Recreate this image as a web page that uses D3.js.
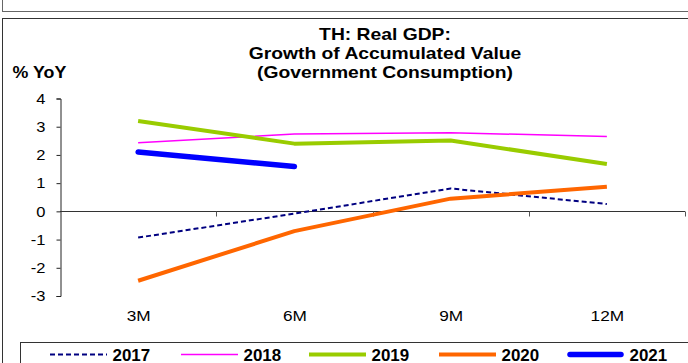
<!DOCTYPE html>
<html>
<head>
<meta charset="utf-8">
<script src="https://cdn.jsdelivr.net/npm/d3@7"></script>
<style>
  html, body { margin: 0; padding: 0; background: #fff; }
  svg { display: block; font-family: "Liberation Sans", Arial, sans-serif; }
</style>
</head>
<body>
<svg id="chart" width="688" height="363"></svg>
<script>
// Accumulated government consumption growth, % YoY
const categories = ["3M", "6M", "9M", "12M"];
const years = ["2017", "2018", "2019", "2020", "2021"];
const values2017 = [-0.93, -0.08, 0.81, 0.26];
const values2018 = [2.43, 2.74, 2.79, 2.65];
const values2019 = [3.2, 2.4, 2.51, 1.68];
const values2020 = [-2.46, -0.7, 0.45, 0.87];
const values2021 = [2.1, 1.59];
const yTicks = [4, 3, 2, 1, 0, -1, -2, -3];
const titleLines = ["TH: Real GDP:", "Growth of Accumulated Value", "(Government Consumption)"];

const seriesValues = [values2017, values2018, values2019, values2020, values2021];
const styles = [
  { color: "#000080", width: 2,   dash: "5,3" },
  { color: "#ff00ff", width: 1.5, dash: null },
  { color: "#99cc00", width: 4,   dash: null },
  { color: "#ff6600", width: 4,   dash: null },
  { color: "#0000ff", width: 5.5, dash: null }
];

const svg = d3.select("#chart");

// text drawn with a slight horizontal widening
function label(parent, x, y, str, opts) {
  const g = parent.append("g")
    .attr("transform", `translate(${x},${y}) scale(${opts.sx || 1},1)`);
  return g.append("text")
    .attr("text-anchor", opts.anchor || "start")
    .attr("font-size", opts.size)
    .attr("font-weight", opts.bold ? "bold" : "normal")
    .attr("fill", "#000")
    .text(str);
}

// frames
svg.append("rect").attr("x", 2.5).attr("y", -10).attr("width", 700).attr("height", 21.5)
  .attr("fill", "none").attr("stroke", "#666").attr("stroke-width", 1);
svg.append("rect").attr("x", 2.5).attr("y", 18.5).attr("width", 700).attr("height", 360)
  .attr("fill", "none").attr("stroke", "#333").attr("stroke-width", 1);

// title
titleLines.forEach((t, i) => {
  label(svg, 385, 40 + i * 19, t, { size: 16.5, bold: true, sx: 1.17, anchor: "middle" });
});
label(svg, 12.5, 77.5, "% YoY", { size: 16.5, bold: true, sx: 1.08 });

// scales
const x = d3.scaleBand().domain(categories).range([60, 685]);
const y = d3.scaleLinear().domain([-3, 4]).range([296, 98.5]);

// y axis
const yAxis = svg.append("g").attr("transform", "translate(60.5,0)")
  .call(d3.axisLeft(y).tickValues(yTicks).tickSize(4).tickFormat(() => ""));
yAxis.select(".domain").attr("stroke", "#222");
yAxis.selectAll(".tick line").attr("stroke", "#222");
yTicks.forEach(v => {
  label(svg, 45.5, y(v) + 5.3, String(v), { size: 15, sx: 1.1, anchor: "end" });
});

// zero line with boundary ticks
const y0 = Math.round(y(0)) + 0.5;
svg.append("line").attr("x1", 60).attr("x2", 685).attr("y1", y0).attr("y2", y0)
  .attr("stroke", "#333").attr("stroke-width", 1.2);
const bounds = categories.map(c => x(c)).concat([x.range()[1]]);
svg.selectAll(".btick").data(bounds.slice(1)).enter().append("line")
  .attr("x1", d => Math.round(d) + 0.5).attr("x2", d => Math.round(d) + 0.5)
  .attr("y1", y0).attr("y2", y0 + 5).attr("stroke", "#555");

// category labels
categories.forEach(c => {
  label(svg, x(c) + x.bandwidth() / 2 + 0.5, 321, c, { size: 15, sx: 1.15, anchor: "middle" });
});

// series
const line = d3.line()
  .x((d, i) => x(categories[i]) + x.bandwidth() / 2)
  .y(d => y(d));
seriesValues.forEach((vals, k) => {
  const s = styles[k];
  svg.append("path").datum(vals).attr("d", line)
    .attr("fill", "none").attr("stroke", s.color).attr("stroke-width", s.width)
    .attr("stroke-dasharray", s.dash).attr("stroke-linejoin", "round")
    .attr("stroke-linecap", k === 4 ? "round" : "butt");
});

// legend
svg.append("rect").attr("x", 20.5).attr("y", 342.5).attr("width", 700).attr("height", 40)
  .attr("fill", "none").attr("stroke", "#333").attr("stroke-width", 1);
const legendX = [50, 181, 309, 439, 567];
years.forEach((yr, k) => {
  const s = styles[k];
  const g = svg.append("g").attr("transform", `translate(${legendX[k]},354.5)`);
  g.append("line").attr("x1", k === 4 ? 3 : 0).attr("x2", k === 4 ? 54 : 57).attr("y1", 0).attr("y2", 0)
    .attr("stroke", s.color).attr("stroke-width", s.width)
    .attr("stroke-dasharray", s.dash).attr("stroke-linecap", k === 4 ? "round" : "butt");
  label(g, 62.5, 6.5, yr, { size: 16, bold: true, sx: 1.06 });
});
</script>
</body>
</html>
